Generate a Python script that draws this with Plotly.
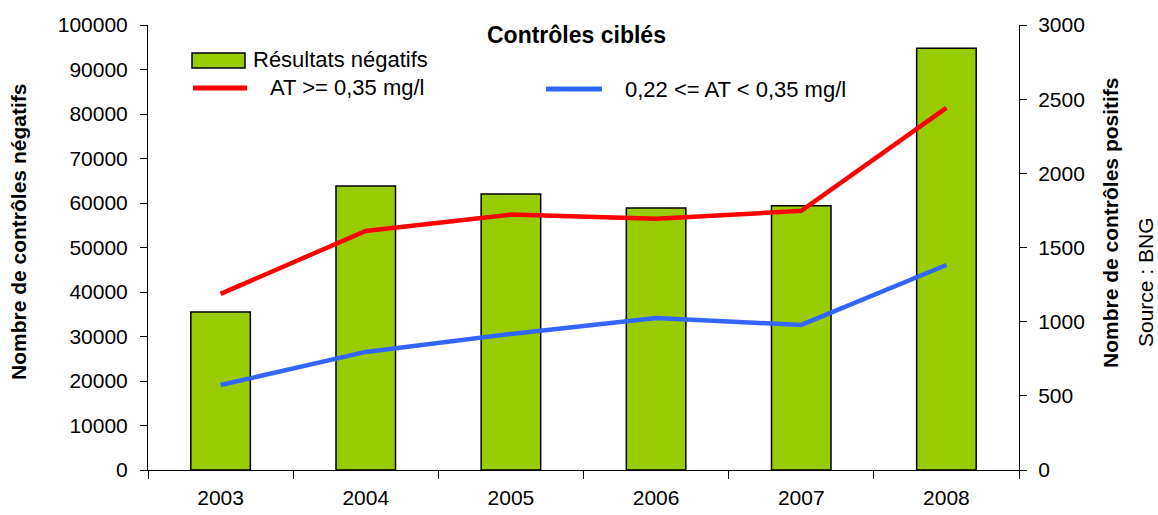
import plotly.graph_objects as go

years = ["2003", "2004", "2005", "2006", "2007", "2008"]
negatifs = [35500, 63800, 62000, 58900, 59400, 94800]
at_035 = [1187, 1612, 1722, 1693, 1747, 2441]
at_022_035 = [573, 796, 917, 1025, 978, 1382]

name_bar = "Résultats négatifs"
name_red = "AT &gt;= 0,35 mg/l"
name_blue = "0,22 &lt;= AT &lt; 0,35 mg/l"

FONT = "Liberation Sans, Arial, sans-serif"
GREEN = "#99CC00"
RED = "#FF0000"
BLUE = "#3366FF"

fig = go.Figure()
fig.add_trace(go.Bar(x=years, y=negatifs, width=0.41, marker=dict(color=GREEN, line=dict(color="black", width=1.5)),
                     showlegend=False, yaxis="y"))
fig.add_trace(go.Scatter(x=years, y=at_035, mode="lines", line=dict(color=RED, width=4.5), showlegend=False, yaxis="y2"))
fig.add_trace(go.Scatter(x=years, y=at_022_035, mode="lines", line=dict(color=BLUE, width=4.5), showlegend=False, yaxis="y2"))

L, R, T, B = 148, 1019, 25, 470
W = R - L
H = B - T
def px(x):
    return (x - L) / W
def py(y):
    return (B - y) / H

shapes = [
    dict(type="rect", xref="paper", yref="paper", x0=px(192), x1=px(245), y0=py(68), y1=py(53),
         fillcolor=GREEN, line=dict(color="black", width=1.5)),
    dict(type="line", xref="paper", yref="paper", x0=px(193), x1=px(247), y0=py(88), y1=py(88),
         line=dict(color=RED, width=5)),
    dict(type="line", xref="paper", yref="paper", x0=px(546), x1=px(602), y0=py(89), y1=py(89),
         line=dict(color=BLUE, width=5)),
]

tf = dict(family=FONT, size=21, color="black")
lf = dict(family=FONT, size=22, color="black")
annotations = [
    dict(text="<b>Contrôles ciblés</b>", xref="paper", yref="paper", x=px(576), y=py(35), showarrow=False,
         xanchor="center", yanchor="middle", font=dict(family=FONT, size=23, color="black")),
    dict(text=name_bar, xref="paper", yref="paper", x=px(251), y=py(60), showarrow=False,
         xanchor="left", yanchor="middle", font=lf),
    dict(text=name_red, xref="paper", yref="paper", x=px(268), y=py(88), showarrow=False,
         xanchor="left", yanchor="middle", font=lf),
    dict(text=name_blue, xref="paper", yref="paper", x=px(623), y=py(89), showarrow=False,
         xanchor="left", yanchor="middle", font=lf),
    dict(text="<b>Nombre de contrôles négatifs</b>", xref="paper", yref="paper", x=px(18), y=py(232),
         showarrow=False, textangle=-90, xanchor="center", yanchor="middle", font=tf),
    dict(text="<b>Nombre de contrôles positifs</b>", xref="paper", yref="paper", x=px(1110), y=py(223),
         showarrow=False, textangle=-90, xanchor="center", yanchor="middle", font=tf),
    dict(text="Source : BNG", xref="paper", yref="paper", x=px(1145), y=py(282),
         showarrow=False, textangle=-90, xanchor="center", yanchor="middle", font=tf),
]

fig.update_layout(
    width=1158, height=515,
    margin=dict(l=L, r=1158 - R, t=T, b=515 - B, pad=0, autoexpand=False),
    paper_bgcolor="white", plot_bgcolor="white",
    font=dict(family=FONT, size=21, color="black"),
    shapes=shapes, annotations=annotations,
    xaxis=dict(type="category", showline=True, linecolor="black", linewidth=1, ticks="outside",
               tickson="boundaries", ticklen=8, tickcolor="black", showgrid=False, zeroline=False,
               tickfont=tf, ticklabelstandoff=9, automargin=False),
    yaxis=dict(range=[0, 100000], dtick=10000, showline=True, linecolor="black", linewidth=1,
               ticks="outside", ticklen=7, tickcolor="black", showgrid=False, zeroline=False,
               tickfont=tf, tickformat="d", ticklabelstandoff=8, automargin=False),
    yaxis2=dict(range=[0, 3000], dtick=500, overlaying="y", side="right", showline=True, linecolor="black",
                linewidth=1, ticks="outside", ticklen=7, tickcolor="black", showgrid=False, zeroline=False,
                tickfont=tf, tickformat="d", ticklabelstandoff=7, automargin=False),
)

fig.write_html("out.html", config={"displayModeBar": False},
               post_script="document.body.style.margin='0px';")
